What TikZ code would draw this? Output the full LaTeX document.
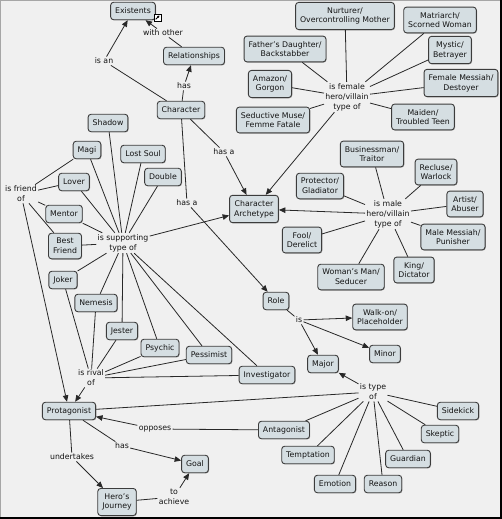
\documentclass[tikz,border=0pt]{standalone}
\usepackage{fontspec}
\setmainfont{DejaVu Sans}
\usetikzlibrary{arrows.meta,shadows}
\definecolor{bgc}{RGB}{240,240,240}
\definecolor{boxc}{RGB}{213,222,226}
\definecolor{bordc}{RGB}{60,60,60}
\definecolor{linec}{RGB}{40,40,40}
\definecolor{txtc}{RGB}{20,20,20}
\tikzset{
  concept/.style={draw=bordc, line width=0.9pt, fill=boxc, rounded corners=3pt,
    align=center, inner xsep=4.5pt, inner ysep=5pt, minimum height=17.5pt,
    font=\fontsize{7.8}{9.8}\selectfont, text=txtc,
    drop shadow={shadow xshift=0.7pt, shadow yshift=-0.7pt, fill=black, opacity=0.3}},
  lbl/.style={align=center, inner sep=1.2pt, font=\fontsize{7.8}{10}\selectfont, text=txtc},
  link/.style={draw=linec, line width=0.8pt},
  arr/.style={link, -{Triangle[length=6.5pt,width=5.5pt]}},
  iconbox/.style={draw=black, fill=white, line width=0.6pt, inner sep=0pt, minimum size=7pt},
  iconarrow/.style={draw=black, line width=0.9pt, -{Triangle[length=2.2pt,width=2.4pt]}},
}
\begin{document}
\begin{tikzpicture}[x=1pt,y=-1pt]
\fill[bgc] (0,0) rectangle (502,519);
\useasboundingbox (0,0) rectangle (502,519);
\draw[gray!70, line width=0.6pt] (0.4,518) -- (0.4,0.4) -- (501,0.4);
\draw[black, line width=1.6pt] (501,0) -- (501,518) -- (0,518);

% ---- left / centre concepts
\node[concept] (existents) at (133,11) {Existents};
\node[iconbox] (exicon) at (157.5,17.5) {};
\draw[iconarrow] ([shift={(-1.8,1.8)}]exicon.center) -- ([shift={(2,-2)}]exicon.center);
\node[lbl] (withother) at (163,33) {with other};
\node[concept] (relationships) at (194,56) {Relationships};
\node[lbl] (isan) at (104,61) {is an};
\node[lbl] (has1) at (184,86) {has};
\node[concept] (character) at (181,110) {Character};
\node[concept] (shadow) at (108,123) {Shadow};
\node[concept] (magi) at (87,150) {Magi};
\node[concept] (lostsoul) at (143,154) {Lost Soul};
\node[lbl] (hasa1) at (224,152) {has a};
\node[concept] (double) at (163,177) {Double};
\node[concept] (lover) at (74,182) {Lover};
\node[lbl] (friend) at (21,194) {is friend\\of};
\node[concept] (mentor) at (64,214) {Mentor};
\node[lbl] (hasa2) at (187,203) {has a};
\node[concept] (archetype) at (254,209) {Character\\Archetype};
\node[lbl] (supporting) at (123,243) {is supporting\\type of};
\node[concept] (bestfriend) at (65,246) {Best\\Friend};
\node[concept] (joker) at (63,280) {Joker};
\node[concept] (nemesis) at (96,303) {Nemesis};
\node[concept] (jester) at (122,331) {Jester};
\node[concept] (psychic) at (160,348) {Psychic};
\node[concept] (pessimist) at (209,355) {Pessimist};
\node[concept] (investigator) at (267,375) {Investigator};
\node[lbl] (rival) at (91,378) {is rival\\of};
\node[concept] (protagonist) at (69,411) {Protagonist};
\node[lbl] (opposes) at (155,429) {opposes};
\node[lbl] (has2) at (122,446) {has};
\node[lbl] (undertakes) at (72,457) {undertakes};
\node[concept] (goal) at (195,464) {Goal};
\node[concept] (journey) at (117,502) {Hero’s\\Journey};
\node[lbl] (achieve) at (174,497) {to\\achieve};

% ---- right concepts
\node[concept] (nurturer) at (345,16) {Nurturer/\\Overcontrolling Mother};
\node[concept] (matriarch) at (440,20) {Matriarch/\\Scorned Woman};
\node[concept] (fathers) at (285,49) {Father’s Daughter/\\Backstabber};
\node[concept] (mystic) at (450,50) {Mystic/\\Betrayer};
\node[concept] (amazon) at (270,84) {Amazon/\\Gorgon};
\node[lbl] (female) at (347,97) {is female\\hero/villain\\type of};
\node[concept] (femmessiah) at (461,83) {Female Messiah/\\Destoyer};
\node[concept] (seductive) at (273,120) {Seductive Muse/\\Femme Fatale};
\node[concept] (maiden) at (423,117) {Maiden/\\Troubled Teen};
\node[concept] (businessman) at (372,154) {Businessman/\\Traitor};
\node[concept] (recluse) at (436,172) {Recluse/\\Warlock};
\node[concept] (protector) at (320,186) {Protector/\\Gladiator};
\node[lbl] (male) at (388,214) {is male\\hero/villain\\type of};
\node[concept] (artist) at (465,204) {Artist/\\Abuser};
\node[concept] (malemessiah) at (453,237) {Male Messiah/\\Punisher};
\node[concept] (fool) at (302,240) {Fool/\\Derelict};
\node[concept] (king) at (414,270) {King/\\Dictator};
\node[concept] (womansman) at (351,277) {Woman’s Man/\\Seducer};
\node[concept] (role) at (276,301) {Role};
\node[lbl] (is) at (299,320) {is};
\node[concept] (walkon) at (380,317) {Walk-on/\\Placeholder};
\node[concept] (minor) at (385,354) {Minor};
\node[concept] (major) at (323,364) {Major};
\node[lbl] (typeof) at (373,392) {is type\\of};
\node[concept] (sidekick) at (458,411) {Sidekick};
\node[concept] (antagonist) at (284,430) {Antagonist};
\node[concept] (skeptic) at (440,434) {Skeptic};
\node[concept] (temptation) at (308,455) {Temptation};
\node[concept] (guardian) at (408,459) {Guardian};
\node[concept] (emotion) at (335,484) {Emotion};
\node[concept] (reason) at (383,484) {Reason};

% ---- connectors
\draw[link] (character) -- (isan);
\draw[arr] (isan) -- (existents);
\draw[link] (character) -- (has1);
\draw[arr] (has1) -- (relationships);
\draw[link] (relationships) -- (withother);
\draw[arr] (withother) -- (existents);
\draw[link] (character) -- (hasa1);
\draw[arr] (hasa1) -- (archetype);
\draw[link] (character) -- (hasa2);
\draw[arr] (hasa2) -- (role);

\foreach \n in {nurturer,matriarch,fathers,mystic,amazon,femmessiah,seductive,maiden}
  \draw[link] (\n) -- (female);
\draw[arr] (female) -- (archetype);

\foreach \n in {businessman,recluse,protector,artist,malemessiah,fool,king,womansman}
  \draw[link] (\n) -- (male);
\draw[arr] (male) -- (archetype);

\foreach \n in {shadow,magi,lostsoul,double,lover,mentor,bestfriend,joker,nemesis,jester,psychic,pessimist,investigator}
  \draw[link] (\n) -- (supporting);
\draw[arr] (supporting) -- (archetype);

\foreach \n in {magi,lover,mentor,bestfriend}
  \draw[link] (\n) -- (friend);
\draw[arr] (friend) -- (protagonist);

\foreach \n in {joker,nemesis,jester,psychic,pessimist,investigator}
  \draw[link] (\n) -- (rival);
\draw[arr] (rival) -- (protagonist);

\draw[link] (antagonist) -- (opposes);
\draw[arr] (opposes) -- (protagonist);
\draw[link] (protagonist) -- (has2);
\draw[arr] (has2) -- (goal);
\draw[link] (protagonist) -- (undertakes);
\draw[arr] (undertakes) -- (journey);
\draw[link] (journey) -- (achieve);
\draw[arr] (achieve) -- (goal);

\draw[link] (role) -- (is);
\draw[arr] (is) -- (walkon);
\draw[arr] (is) -- (minor);
\draw[arr] (is) -- (major);

\foreach \n in {protagonist,antagonist,temptation,emotion,reason,guardian,skeptic,sidekick}
  \draw[link] (\n) -- (typeof);
\draw[arr] (typeof) -- (major);
\end{tikzpicture}
\end{document}
